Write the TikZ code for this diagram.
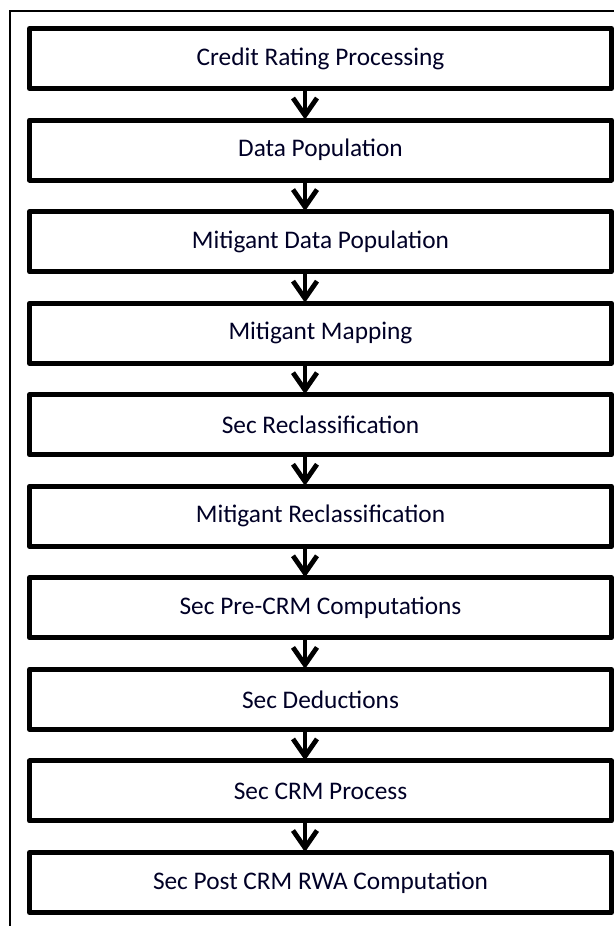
\documentclass[tikz,border=0pt]{standalone}
\usepackage{fontspec}
\setmainfont{Carlito}
\usetikzlibrary{arrows.meta,calc}
\begin{document}
\begin{tikzpicture}[x=0.75pt,y=-0.75pt,
  stepbox/.style={draw=black, line width=3.75pt, line join=round, minimum width=436.5pt, minimum height=45pt, inner sep=0pt, fill=white, text=black!85!blue, font=\fontsize{19}{22}\selectfont},
  flowarrow/.style={line width=2.6pt, -{Straight Barb[length=13pt,width=18pt,line width=3.6pt]}, shorten >=-1.5pt}]
\useasboundingbox (0,0) rectangle (614,926);
\clip (0,0) rectangle (614,926);
\fill[white] (0,0) rectangle (614,926);
\draw[line width=1.5pt] (9.5,10.5) rectangle (660,980);
\foreach \i/\t in {1/Credit Rating Processing,2/Data Population,3/Mitigant Data Population,4/Mitigant Mapping,5/Sec Reclassification,6/Mitigant Reclassification,7/Sec Pre-CRM Computations,8/Sec Deductions,9/Sec CRM Process,10/Sec Post CRM RWA Computation}{
  \node[stepbox] (b\i) at (320.5,{58.5+91.56*(\i-1)}) {\t};
}
\foreach \i [evaluate=\i as \j using int(\i+1)] in {1,...,9}{
  \draw[flowarrow] ($(b\i.south)+(-15.5,0)$) -- ($(b\j.north)+(-15.5,0)$);
}
\end{tikzpicture}
\end{document}
